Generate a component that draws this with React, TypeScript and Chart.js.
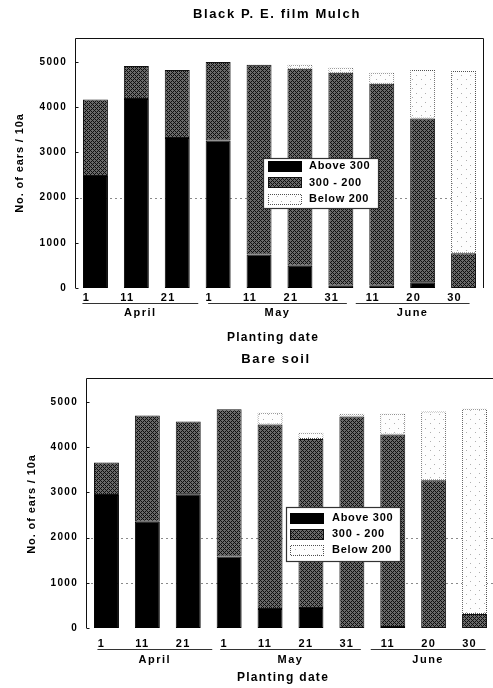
import React, { useEffect, useRef } from 'react';
import { Chart, registerables } from 'chart.js';

Chart.register(...registerables);

// ---------- data ----------
const categories = ['1', '11', '21', '1', '11', '21', '31', '11', '20', '30'];
const months = ['April', 'May', 'June'];
const monthStartIdx = [0, 3, 7];
const monthEndIdx = [2, 6, 9];
const seriesNames = ['Above 300', '300 - 200', 'Below 200'];
const yTicks = [0, 1000, 2000, 3000, 4000, 5000];
const yMax = 5530;

const mulchTitle = 'Black P. E. film Mulch';
const mulchAbove300 = [2480, 4180, 3320, 3260, 740, 490, 50, 50, 125, 0];
const mulch300to200 = [1690, 730, 1500, 1740, 4200, 4360, 4710, 4470, 3625, 770];
const mulchBelow200 = [0, 0, 0, 0, 0, 90, 110, 240, 1070, 4030];
const mulchGridValues = [2000];

const bareTitle = 'Bare soil';
const bareAbove300 = [2940, 2350, 2960, 1580, 420, 440, 0, 20, 0, 0];
const bare300to200 = [720, 2350, 1610, 3260, 4080, 3740, 4680, 4260, 3270, 310];
const bareBelow200 = [0, 0, 0, 0, 260, 140, 60, 460, 1520, 4540];
const bareGridValues = [1000, 2000];

const xTitle = 'Planting date';
const yTitle = 'No. of ears / 10a';

const FONT = "'Liberation Sans', Arial, Helvetica, sans-serif";

function tile(w: number, h: number, fn: (x: number, y: number) => number) {
  const c = document.createElement('canvas');
  c.width = w;
  c.height = h;
  const g = c.getContext('2d')!;
  const img = g.createImageData(w, h);
  for (let y = 0; y < h; y++) {
    for (let x = 0; x < w; x++) {
      const v = fn(x, y);
      const i = (y * w + x) * 4;
      img.data[i] = v;
      img.data[i + 1] = v;
      img.data[i + 2] = v;
      img.data[i + 3] = 255;
    }
  }
  g.putImageData(img, 0, 0);
  return g.createPattern(c, 'repeat')!;
}

const decorPlugin = {
  id: 'decor',
  beforeDraw(chart: any) {
    chart.ctx.letterSpacing = '1.3px';
  },
  beforeDatasetsDraw(chart: any, _args: any, opts: any) {
    const { ctx, chartArea } = chart;
    const y = chart.scales.y;
    ctx.save();
    ctx.strokeStyle = '#8a8a8a';
    ctx.lineWidth = 1;
    ctx.setLineDash([2, 3]);
    for (const v of opts.gridValues) {
      const py = Math.round(y.getPixelForValue(v)) + 0.5;
      ctx.beginPath();
      ctx.moveTo(chartArea.left, py);
      ctx.lineTo(chartArea.right, py);
      ctx.stroke();
    }
    ctx.restore();
  },
  afterDatasetsDraw(chart: any, _args: any, opts: any) {
    const { ctx, chartArea } = chart;
    const x = chart.scales.x;
    const y = chart.scales.y;
    ctx.save();
    ctx.letterSpacing = '0px';
    // frame
    ctx.strokeStyle = '#111';
    ctx.lineWidth = 1;
    const L = Math.round(chartArea.left) + 0.5;
    const R = Math.round(chartArea.right) - 0.5;
    const T = Math.round(chartArea.top) + 0.5;
    const B = Math.round(chartArea.bottom);
    ctx.beginPath();
    ctx.moveTo(L, B);
    ctx.lineTo(L, T);
    ctx.lineTo(R, T);
    if (opts.frameRight) ctx.lineTo(R, B);
    ctx.stroke();
    // inward tick marks
    for (const v of yTicks) {
      const py = Math.round(y.getPixelForValue(v)) + 0.5;
      ctx.beginPath();
      ctx.moveTo(L, py);
      ctx.lineTo(L + 3, py);
      ctx.stroke();
    }
    // month underlines and labels
    ctx.fillStyle = '#000';
    ctx.textAlign = 'center';
    ctx.textBaseline = 'middle';
    ctx.letterSpacing = '1.5px';
    ctx.font = `bold 11px ${FONT}`;
    months.forEach((m, i) => {
      const off = opts.monthOffsets[i];
      const x0 = x.getPixelForValue(monthStartIdx[i]) + off[0];
      const x1 = x.getPixelForValue(monthEndIdx[i]) + off[1];
      ctx.strokeStyle = '#333';
      ctx.beginPath();
      ctx.moveTo(x0, opts.underlineY + 0.5);
      ctx.lineTo(x1, opts.underlineY + 0.5);
      ctx.stroke();
      ctx.fillText(m, (x0 + x1) / 2, opts.monthY);
    });
    // x title
    ctx.font = `bold 12px ${FONT}`;
    ctx.letterSpacing = '1.3px';
    ctx.fillText(xTitle, opts.xTitleX, opts.xTitleY);
    // chart title
    ctx.font = `bold 13px ${FONT}`;
    ctx.letterSpacing = '1.6px';
    ctx.fillText(opts.title, opts.titleX, opts.titleY);
    // y title
    ctx.save();
    ctx.translate(opts.yTitleX, opts.yTitleY);
    ctx.rotate(-Math.PI / 2);
    ctx.font = `bold 11px ${FONT}`;
    ctx.letterSpacing = '0.9px';
    ctx.fillText(yTitle, 0, 0);
    ctx.restore();
    // legend
    const lg = opts.legend;
    ctx.fillStyle = '#fff';
    ctx.fillRect(lg.x, lg.y, lg.w, lg.h);
    ctx.strokeStyle = '#333';
    ctx.lineWidth = 1.2;
    ctx.strokeRect(lg.x + 0.5, lg.y + 0.5, lg.w, lg.h);
    ctx.lineWidth = 1;
    ctx.font = `bold 11px ${FONT}`;
    ctx.letterSpacing = '0.7px';
    ctx.textAlign = 'left';
    chart.data.datasets.forEach((ds: any, i: number) => {
      const cy = lg.y + lg.firstRow + i * lg.rowH;
      const sy = Math.round(cy - lg.swH / 2);
      ctx.fillStyle = ds.backgroundColor;
      ctx.fillRect(lg.swX, sy, lg.swW, lg.swH);
      ctx.strokeStyle = ds.borderColor;
      ctx.strokeRect(lg.swX + 0.5, sy + 0.5, lg.swW - 1, lg.swH - 1);
      ctx.fillStyle = '#000';
      ctx.fillText(ds.label, lg.textX, cy);
    });
    ctx.restore();
  },
};

function makeChart(canvas: HTMLCanvasElement, s: any) {
  const midPattern = tile(4, 4, (px, py) =>
    (px + py) % 4 === 0 || (((px - py) % 4) + 4) % 4 === 0 ? 15 : 105
  );
  const lightPattern = tile(9, 9, (px, py) =>
    (px === 2 && py === 3) || (px === 7 && py === 7) ? 175 : 253
  );
  const dotBorder = tile(2, 2, (px, py) => ((px + py) % 2 === 0 ? 80 : 255));
  const fills = ['#000', midPattern, lightPattern];
  const borders = ['#000', '#111', dotBorder];
  const series = [s.above, s.mid, s.below];
  return new Chart(canvas, {
    type: 'bar',
    data: {
      labels: categories,
      datasets: series.map((d, i) => ({
        label: seriesNames[i],
        data: d,
        backgroundColor: fills[i],
        borderColor: borders[i],
        borderWidth: d.map((v: number) => (v > 0 ? 1 : 0)),
        borderSkipped: false,
        barPercentage: 0.61,
        categoryPercentage: 1,
      })),
    },
    options: {
      responsive: false,
      animation: false,
      events: [],
      layout: { padding: { left: 0, right: s.canvasW - s.right, top: s.top, bottom: 0 } },
      scales: {
        x: {
          stacked: true,
          grid: { display: false, drawTicks: false },
          border: { display: false },
          ticks: {
            color: '#000',
            font: { family: FONT, size: 11, weight: 'bold' },
            padding: s.xTickPad,
            labelOffset: s.labelOffset,
            maxRotation: 0,
            autoSkip: false,
          },
          afterFit: (sc: any) => {
            sc.height = s.canvasH - s.bottom;
          },
        },
        y: {
          stacked: true,
          min: 0,
          max: yMax,
          grid: { display: false, drawTicks: false },
          border: { display: false },
          afterBuildTicks: (sc: any) => {
            sc.ticks = yTicks.map((v) => ({ value: v }));
          },
          ticks: {
            color: '#000',
            font: { family: FONT, size: 10, weight: 'bold' },
            padding: 8,
            callback: (v: any) => String(v),
          },
          afterFit: (sc: any) => {
            sc.width = s.left;
          },
        },
      },
      plugins: {
        legend: { display: false },
        tooltip: { enabled: false },
        title: { display: false },
        decor: {
          gridValues: s.gridValues,
          frameRight: s.frameRight,
          monthOffsets: s.monthOffsets,
          underlineY: s.underlineY,
          monthY: s.monthY,
          xTitleX: s.xTitleX,
          xTitleY: s.xTitleY,
          title: s.title,
          titleX: s.titleX,
          titleY: s.titleY,
          yTitleX: s.yTitleX,
          yTitleY: s.yTitleY,
          legend: s.legend,
        },
      } as any,
    },
    plugins: [decorPlugin as any],
  });
}

export default function App() {
  const topRef = useRef<HTMLCanvasElement>(null);
  const botRef = useRef<HTMLCanvasElement>(null);

  useEffect(() => {
    const c1 = makeChart(topRef.current!, {
      above: mulchAbove300,
      mid: mulch300to200,
      below: mulchBelow200,
      gridValues: mulchGridValues,
      title: mulchTitle,
      canvasW: 493,
      canvasH: 350,
      left: 75,
      right: 484,
      top: 38,
      bottom: 288,
      xTickPad: 3,
      labelOffset: -9,
      frameRight: true,
      monthOffsets: [[-13, 21], [-10, 6], [-26, 6]],
      underlineY: 303,
      monthY: 313,
      xTitleX: 273,
      xTitleY: 338,
      titleX: 277,
      titleY: 14,
      yTitleX: 20,
      yTitleY: 163,
      legend: { x: 263, y: 158, w: 115, h: 50, firstRow: 8, rowH: 16.5, swX: 268, swW: 34, swH: 11, textX: 309 },
    });
    const c2 = makeChart(botRef.current!, {
      above: bareAbove300,
      mid: bare300to200,
      below: bareBelow200,
      gridValues: bareGridValues,
      title: bareTitle,
      canvasW: 500,
      canvasH: 344,
      left: 86,
      right: 495,
      top: 34,
      bottom: 284,
      xTickPad: 9,
      labelOffset: -5,
      frameRight: false,
      monthOffsets: [[-9, 24], [-9, 9], [-22, 11]],
      underlineY: 305,
      monthY: 316,
      xTitleX: 283,
      xTitleY: 334,
      titleX: 276,
      titleY: 15,
      yTitleX: 32,
      yTitleY: 160,
      legend: { x: 286, y: 163, w: 114, h: 54, firstRow: 11, rowH: 16, swX: 290, swW: 34, swH: 11, textX: 332 },
    });
    return () => {
      c1.destroy();
      c2.destroy();
    };
  }, []);

  return (
    <div
      style={{
        position: 'absolute',
        left: 0,
        top: 0,
        width: 493,
        height: 688,
        overflow: 'hidden',
        background: '#fff',
      }}
    >
      <canvas
        ref={topRef}
        width={493}
        height={350}
        style={{ position: 'absolute', left: 0, top: 0, width: 493, height: 350 }}
      />
      <canvas
        ref={botRef}
        width={500}
        height={344}
        style={{ position: 'absolute', left: 0, top: 344, width: 500, height: 344 }}
      />
    </div>
  );
}
